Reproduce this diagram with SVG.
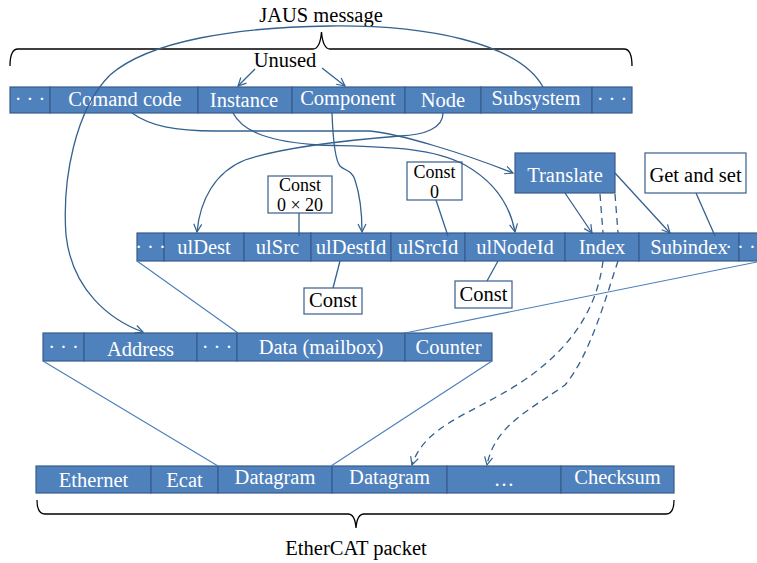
<svg xmlns="http://www.w3.org/2000/svg" width="757" height="563" viewBox="0 0 757 563">
  <style>
    .cell { fill: #4F81BD; stroke: #385D8A; stroke-width: 1.2; }
    .box { fill: #ffffff; stroke: #385D8A; stroke-width: 1.2; }
    .ct { font-family: "Liberation Serif", "Times New Roman", serif; font-size: 20.5px; fill: #ffffff; text-anchor: middle; }
    .bt { font-family: "Liberation Serif", "Times New Roman", serif; font-size: 20.5px; fill: #000000; text-anchor: middle; }
    .bt2 { font-family: "Liberation Serif", "Times New Roman", serif; font-size: 18px; fill: #000000; text-anchor: middle; }
    .brace { fill: none; stroke: #000000; stroke-width: 1.3; }
    .link { fill: none; stroke: #34618F; stroke-width: 1.3; }
    .arrow { fill: none; stroke: #34618F; stroke-width: 1.3; marker-end: url(#head); }
    .dash { fill: none; stroke: #34618F; stroke-width: 1.3; stroke-dasharray: 7 5; }
    .thin { fill: none; stroke: #4A7EBB; stroke-width: 1.1; }
  </style>
  <defs>
    <marker id="head" viewBox="0 0 10 10" refX="9" refY="5" markerWidth="10" markerHeight="10" markerUnits="userSpaceOnUse" orient="auto">
      <path d="M1,1 L9,5 L1,9" fill="none" stroke="#34618F" stroke-width="1.2"/>
    </marker>
  </defs>

  <!-- braces and captions -->
  <g id="jaus-brace">
    <path class="brace" d="M10,66 Q10,49 18,49 L313,49 Q320,49 321.5,32 Q323,49 330,49 L624,49 Q632,49 632,66"/>
    <text class="bt" x="321" y="22" font-size="20px">JAUS message</text>
  </g>
  <g id="ethercat-brace">
    <path class="brace" d="M37,500 Q37,514 45,514 L348,514 Q355,514 356,528 Q357,514 364,514 L666,514 Q674,514 674,500"/>
    <text class="bt" x="356" y="555">EtherCAT packet</text>
  </g>
  <g id="unused">
    <text class="bt" x="285" y="67">Unused</text>
  </g>

  <!-- JAUS message fields -->
  <g id="jaus-fields">
    <rect class="cell" x="10" y="87" width="40" height="26"/>
    <rect class="cell" x="50" y="87" width="148" height="26"/>
    <rect class="cell" x="198" y="87" width="94" height="26"/>
    <rect class="cell" x="292" y="87" width="113" height="26"/>
    <rect class="cell" x="405" y="87" width="76" height="26"/>
    <rect class="cell" x="481" y="87" width="111" height="26"/>
    <rect class="cell" x="592" y="87" width="40" height="26"/>
    <text class="ct" x="30" y="106">· · ·</text>
    <text class="ct" x="125" y="106">Comand code</text>
    <text class="ct" x="244" y="107">Instance</text>
    <text class="ct" x="348" y="105">Component</text>
    <text class="ct" x="443" y="107">Node</text>
    <text class="ct" x="536" y="105">Subsystem</text>
    <text class="ct" x="612" y="106">· · ·</text>
  </g>

  <!-- mailbox header fields -->
  <g id="mailbox-fields">
    <rect class="cell" x="137" y="233" width="27" height="28"/>
    <rect class="cell" x="164" y="233" width="80" height="28"/>
    <rect class="cell" x="244" y="233" width="67" height="28"/>
    <rect class="cell" x="311" y="233" width="80" height="28"/>
    <rect class="cell" x="391" y="233" width="74" height="28"/>
    <rect class="cell" x="465" y="233" width="100" height="28"/>
    <rect class="cell" x="565" y="233" width="74" height="28"/>
    <rect class="cell" x="639" y="233" width="100" height="28"/>
    <rect class="cell" x="739" y="233" width="50" height="28"/>
    <text class="ct" x="150.5" y="254">· · ·</text>
    <text class="ct" x="204" y="254">ulDest</text>
    <text class="ct" x="277.5" y="254">ulSrc</text>
    <text class="ct" x="351" y="254">ulDestId</text>
    <text class="ct" x="428" y="254">ulSrcId</text>
    <text class="ct" x="515" y="254">ulNodeId</text>
    <text class="ct" x="602" y="254">Index</text>
    <text class="ct" x="689" y="254">Subindex</text>
    <text class="ct" x="740.5" y="254" text-anchor="start">· · ·</text>
  </g>

  <!-- datagram fields -->
  <g id="datagram-fields">
    <rect class="cell" x="43" y="333" width="41" height="28"/>
    <rect class="cell" x="84" y="333" width="113" height="28"/>
    <rect class="cell" x="197" y="333" width="40" height="28"/>
    <rect class="cell" x="237" y="333" width="168" height="28"/>
    <rect class="cell" x="405" y="333" width="87" height="28"/>
    <text class="ct" x="63.5" y="354">· · ·</text>
    <text class="ct" x="140.5" y="356">Address</text>
    <text class="ct" x="217" y="354">· · ·</text>
    <text class="ct" x="321" y="354">Data (mailbox)</text>
    <text class="ct" x="448.5" y="354">Counter</text>
  </g>

  <!-- EtherCAT packet fields -->
  <g id="packet-fields">
    <rect class="cell" x="36" y="466" width="115" height="27"/>
    <rect class="cell" x="151" y="466" width="67" height="27"/>
    <rect class="cell" x="218" y="466" width="114" height="27"/>
    <rect class="cell" x="332" y="466" width="115" height="27"/>
    <rect class="cell" x="447" y="466" width="114" height="27"/>
    <rect class="cell" x="561" y="466" width="113" height="27"/>
    <text class="ct" x="93.5" y="487">Ethernet</text>
    <text class="ct" x="184.5" y="487">Ecat</text>
    <text class="ct" x="275" y="484">Datagram</text>
    <text class="ct" x="389.5" y="484">Datagram</text>
    <text class="ct" x="504" y="486">…</text>
    <text class="ct" x="617.5" y="484">Checksum</text>
  </g>

  <!-- annotation boxes -->
  <g id="translate">
    <rect class="cell" x="515" y="153" width="100" height="40"/>
    <text class="ct" x="565" y="182">Translate</text>
  </g>
  <g id="get-and-set">
    <rect class="box" x="645" y="153" width="101" height="40"/>
    <text class="bt" x="695.5" y="182">Get and set</text>
  </g>
  <g id="const-0x20">
    <rect class="box" x="268" y="176" width="64" height="37"/>
    <text class="bt2" x="300" y="191">Const</text>
    <text class="bt2" x="300" y="211">0 × 20</text>
  </g>
  <g id="const-0">
    <rect class="box" x="407" y="162" width="55" height="38"/>
    <text class="bt2" x="434.5" y="178">Const</text>
    <text class="bt2" x="434.5" y="198">0</text>
  </g>
  <g id="const-destid">
    <rect class="box" x="304" y="288" width="58" height="26"/>
    <text class="bt" x="333" y="307">Const</text>
  </g>
  <g id="const-nodeid">
    <rect class="box" x="455" y="281" width="57" height="27"/>
    <text class="bt" x="483.5" y="301">Const</text>
  </g>

  <!-- connectors -->
  <g id="connectors">
    <!-- Unused markers -->
    <path class="arrow" d="M255,69 L238,86"/>
    <path class="arrow" d="M322,68 L345,86"/>
    <!-- Subsystem -> Address -->
    <path class="arrow" d="M543,87 C518,42 425,25 330,26 C240,27 150,40 110,75 C75,110 62,180 66,235 C72,290 110,320 143,332"/>
    <!-- Comand code -> Translate -->
    <path class="arrow" d="M132,113 C150,126 175,131 215,131 L370,131 C400,134 460,152 513,173"/>
    <!-- Instance -> ulNodeId -->
    <path class="arrow" d="M233,113 C243,132 270,142 320,145 C380,147 430,146 465,165 C495,182 510,205 515,232"/>
    <!-- Node -> ulDest -->
    <path class="arrow" d="M443,113 C443,128 425,135 400,136 C350,140 280,148 245,160 C215,172 200,200 197,232"/>
    <!-- Component -> ulDestId -->
    <path class="arrow" d="M332,113 C333,140 335,160 340,166 C345,171 352,170 355,180 C360,195 362,215 362,232"/>
    <!-- Translate -> Index / Subindex -->
    <path class="arrow" d="M565,193 L592,233"/>
    <path class="arrow" d="M615,173 L670,233"/>
    <!-- Translate -> further datagrams (dashed) -->
    <path class="dash" d="M600,194 L603,233"/>
    <path class="dash" d="M615,194 L618,233"/>
    <path class="dash" d="M603,261 C597,310 570,350 520,383 C470,415 425,425 412,465" marker-end="url(#head)"/>
    <path class="dash" d="M618,261 C605,300 590,355 565,385 C530,410 495,425 487,465" marker-end="url(#head)"/>
    <!-- constant value callouts -->
    <path class="link" d="M299,213 L299,236"/>
    <path class="link" d="M436,200 L448,236"/>
    <path class="link" d="M340,261 L333,288"/>
    <path class="link" d="M498,261 L487,281"/>
    <path class="link" d="M696,193 L715,236"/>
    <!-- nesting outlines -->
    <path class="thin" d="M137,261 L238,333"/>
    <path class="thin" d="M757,262 L405,333"/>
    <path class="thin" d="M43,361 L218,466"/>
    <path class="thin" d="M492,361 L331,466"/>
  </g>
</svg>
